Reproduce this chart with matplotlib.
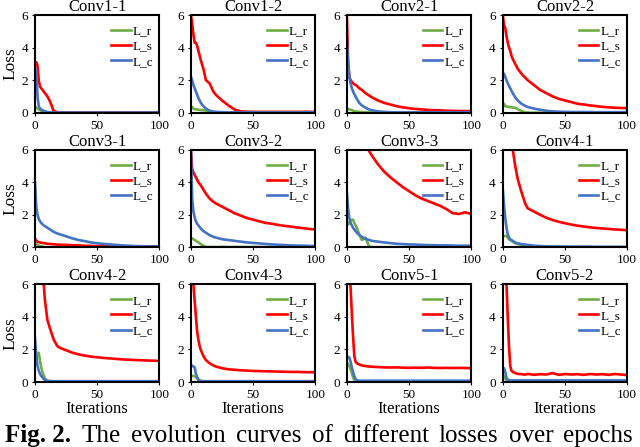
import matplotlib
matplotlib.use("Agg")
import matplotlib.pyplot as plt

plt.rcParams['font.family'] = ['Liberation Serif', 'DejaVu Serif']

# iteration grid shared by every curve
iters = [0, 1, 2, 3, 4, 5, 6, 7, 8, 10, 12, 15, 18, 20, 25, 30, 35, 40, 45, 50,
         55, 60, 65, 70, 75, 80, 85, 90, 95, 100]

titles = ["Conv1-1", "Conv1-2", "Conv2-1", "Conv2-2",
          "Conv3-1", "Conv3-2", "Conv3-3", "Conv4-1",
          "Conv4-2", "Conv4-3", "Conv5-1", "Conv5-2"]
labels = ["L_r", "L_s", "L_c"]
caption_words = ["The", "evolution", "curves", "of", "different", "losses", "over", "epochs"]

# L_r (green), L_s (red), L_c (blue) per layer
conv1_1_lr = [0.4, 0.3, 0.25, 0.2, 0.15, 0.12, 0.1, 0.08, 0.06, 0.03, 0.02, 0, 0, 0, 0, 0, 0, 0, 0, 0, 0, 0, 0, 0, 0, 0, 0, 0, 0, 0]
conv1_1_ls = [2.9, 3.1, 2.9, 2.0, 1.6, 1.5, 1.4, 1.3, 1.2, 1.0, 0.7, 0.1, 0.03, 0.02, 0.01, 0.01, 0.01, 0.01, 0.01, 0.01, 0.01, 0.01, 0.01, 0.01, 0.01, 0.01, 0.01, 0.01, 0.01, 0.01]
conv1_1_lc = [2.7, 2.6, 1.0, 0.4, 0.25, 0.2, 0.15, 0.12, 0.08, 0.04, 0.02, 0.01, 0.01, 0.01, 0.01, 0.01, 0.01, 0.01, 0.01, 0.01, 0.01, 0.01, 0.01, 0.01, 0.01, 0.01, 0.01, 0.01, 0.01, 0.01]

conv1_2_lr = [0.3, 0.35, 0.25, 0.22, 0.2, 0.2, 0.18, 0.17, 0.16, 0.15, 0.12, 0.06, 0.02, 0, 0, 0, 0, 0, 0, 0, 0, 0, 0, 0, 0, 0, 0, 0, 0, 0]
conv1_2_ls = [6.0, 5.5, 4.8, 4.3, 4.3, 4.1, 3.8, 3.5, 3.2, 2.7, 2.0, 1.8, 1.3, 1.1, 0.75, 0.45, 0.2, 0.08, 0.06, 0.05, 0.05, 0.05, 0.05, 0.05, 0.05, 0.05, 0.05, 0.05, 0.05, 0.05]
conv1_2_lc = [2.2, 2.0, 1.7, 1.5, 1.3, 1.1, 0.9, 0.75, 0.6, 0.4, 0.25, 0.12, 0.07, 0.05, 0.03, 0.02, 0.02, 0.02, 0.02, 0.02, 0.02, 0.02, 0.02, 0.02, 0.02, 0.02, 0.02, 0.02, 0.02, 0.02]

conv2_1_lr = [0.25, 0.22, 0.2, 0.18, 0.15, 0.12, 0.1, 0.08, 0.07, 0.05, 0.04, 0.03, 0.02, 0.02, 0.01, 0, 0, 0, 0, 0, 0, 0, 0, 0, 0, 0, 0, 0, 0, 0]
conv2_1_ls = [6.0, 3.2, 2.2, 2.0, 1.9, 1.8, 1.75, 1.7, 1.65, 1.5, 1.4, 1.2, 1.05, 0.95, 0.75, 0.6, 0.5, 0.4, 0.33, 0.27, 0.23, 0.2, 0.17, 0.15, 0.14, 0.12, 0.11, 0.1, 0.1, 0.1]
conv2_1_lc = [4.5, 3.0, 2.2, 1.8, 1.5, 1.3, 1.15, 1.0, 0.85, 0.6, 0.45, 0.3, 0.2, 0.15, 0.08, 0.05, 0.03, 0.02, 0.02, 0.02, 0.02, 0.02, 0.02, 0.02, 0.02, 0.02, 0.02, 0.02, 0.02, 0.02]

conv2_2_lr = [0.4, 0.55, 0.4, 0.38, 0.36, 0.35, 0.34, 0.33, 0.32, 0.3, 0.22, 0.1, 0.02, 0, 0, 0, 0, 0, 0, 0, 0, 0, 0, 0, 0, 0, 0, 0, 0, 0]
conv2_2_ls = [6.0, 5.4, 5.2, 4.7, 4.3, 4.0, 3.8, 3.5, 3.3, 3.0, 2.7, 2.4, 2.15, 2.0, 1.7, 1.4, 1.2, 1.0, 0.85, 0.75, 0.65, 0.55, 0.5, 0.45, 0.4, 0.36, 0.33, 0.3, 0.29, 0.28]
conv2_2_lc = [2.3, 2.4, 2.2, 2.0, 1.8, 1.65, 1.5, 1.35, 1.2, 0.95, 0.75, 0.55, 0.42, 0.35, 0.25, 0.18, 0.12, 0.08, 0.06, 0.05, 0.04, 0.04, 0.04, 0.04, 0.03, 0.03, 0.03, 0.03, 0.03, 0.03]

conv3_1_lr = [0.25, 0.2, 0.15, 0.1, 0.08, 0.06, 0.04, 0.03, 0.02, 0.01, 0.01, 0.01, 0.01, 0.01, 0.01, 0.01, 0.01, 0.01, 0.01, 0.01, 0.01, 0.01, 0.01, 0.01, 0.01, 0.01, 0.01, 0.01, 0.01, 0.01]
conv3_1_ls = [0.55, 0.4, 0.35, 0.32, 0.3, 0.28, 0.27, 0.26, 0.25, 0.22, 0.21, 0.19, 0.17, 0.16, 0.15, 0.13, 0.12, 0.1, 0.09, 0.08, 0.08, 0.07, 0.07, 0.06, 0.06, 0.06, 0.05, 0.05, 0.05, 0.05]
conv3_1_lc = [4.0, 2.5, 2.0, 1.75, 1.6, 1.5, 1.42, 1.35, 1.3, 1.2, 1.1, 0.95, 0.85, 0.8, 0.68, 0.55, 0.45, 0.38, 0.3, 0.25, 0.21, 0.18, 0.15, 0.12, 0.1, 0.08, 0.07, 0.06, 0.05, 0.05]

conv3_2_lr = [0.6, 0.55, 0.5, 0.45, 0.4, 0.35, 0.3, 0.25, 0.2, 0.1, 0.03, 0.02, 0.02, 0.02, 0.02, 0.02, 0.02, 0.02, 0.02, 0.02, 0.02, 0.02, 0.02, 0.02, 0.02, 0.02, 0.02, 0.02, 0.02, 0.02]
conv3_2_ls = [6.0, 4.8, 4.6, 4.45, 4.3, 4.15, 4.0, 3.9, 3.8, 3.55, 3.3, 3.0, 2.8, 2.7, 2.5, 2.3, 2.1, 1.95, 1.8, 1.7, 1.6, 1.5, 1.45, 1.38, 1.32, 1.28, 1.22, 1.18, 1.13, 1.1]
conv3_2_lc = [6.0, 3.0, 2.2, 1.85, 1.6, 1.45, 1.35, 1.25, 1.15, 1.0, 0.9, 0.75, 0.65, 0.6, 0.5, 0.45, 0.4, 0.35, 0.3, 0.27, 0.24, 0.21, 0.18, 0.16, 0.14, 0.12, 0.11, 0.1, 0.09, 0.08]

conv3_3_lr = [1.6, 1.4, 1.5, 1.65, 1.7, 1.7, 1.5, 1.35, 1.2, 0.8, 0.45, 0.6, 0.03, 0.02, 0.01, 0.01, 0.01, 0.01, 0.01, 0.01, 0.01, 0.01, 0.01, 0.01, 0.01, 0.01, 0.01, 0.01, 0.01, 0.01]
conv3_3_ls = [9.5, 9.3, 9.1, 8.9, 8.7, 8.5, 8.3, 8.1, 7.9, 7.5, 7.1, 6.5, 5.9, 5.65, 5.1, 4.65, 4.3, 4.0, 3.7, 3.45, 3.2, 3.0, 2.85, 2.7, 2.55, 2.35, 2.1, 2.05, 2.15, 2.05]
conv3_3_lc = [3.4, 2.4, 1.8, 1.5, 1.35, 1.2, 1.1, 1.0, 0.9, 0.75, 0.65, 0.52, 0.45, 0.4, 0.35, 0.3, 0.26, 0.22, 0.2, 0.18, 0.17, 0.15, 0.14, 0.13, 0.12, 0.12, 0.11, 0.1, 0.1, 0.1]

conv4_1_lr = [0.7, 0.7, 0.7, 0.68, 0.6, 0.5, 0.45, 0.4, 0.35, 0.25, 0.2, 0.15, 0.1, 0.05, 0.02, 0.01, 0.01, 0.01, 0.01, 0.01, 0.01, 0.01, 0.01, 0.01, 0.01, 0.01, 0.01, 0.01, 0.01, 0.01]
conv4_1_ls = [10.0, 9.5, 9.0, 8.5, 8.0, 7.5, 7.0, 6.5, 6.0, 5.0, 4.2, 3.4, 2.7, 2.4, 2.2, 2.0, 1.82, 1.68, 1.57, 1.48, 1.4, 1.33, 1.28, 1.23, 1.19, 1.16, 1.13, 1.1, 1.08, 1.05]
conv4_1_lc = [3.6, 2.6, 1.8, 1.2, 0.8, 0.6, 0.5, 0.45, 0.4, 0.3, 0.25, 0.2, 0.17, 0.15, 0.1, 0.08, 0.06, 0.05, 0.05, 0.05, 0.04, 0.04, 0.04, 0.04, 0.03, 0.03, 0.03, 0.03, 0.03, 0.03]

conv4_2_lr = [1.9, 1.4, 1.7, 1.8, 1.3, 0.9, 0.6, 0.4, 0.2, 0.05, 0.02, 0.01, 0.01, 0.01, 0.01, 0.01, 0.01, 0.01, 0.01, 0.01, 0.01, 0.01, 0.01, 0.01, 0.01, 0.01, 0.01, 0.01, 0.01, 0.01]
conv4_2_ls = [10.0, 9.3, 8.6, 7.9, 7.2, 6.6, 6.2, 6.0, 5.0, 3.8, 3.3, 2.6, 2.2, 2.1, 1.95, 1.8, 1.7, 1.62, 1.56, 1.52, 1.48, 1.45, 1.42, 1.39, 1.37, 1.35, 1.34, 1.32, 1.31, 1.3]
conv4_2_lc = [2.7, 1.6, 1.0, 0.7, 0.5, 0.38, 0.28, 0.2, 0.13, 0.08, 0.06, 0.05, 0.05, 0.05, 0.05, 0.05, 0.05, 0.05, 0.05, 0.05, 0.05, 0.05, 0.05, 0.05, 0.05, 0.05, 0.05, 0.05, 0.05, 0.05]

conv4_3_lr = [0.4, 0.38, 0.36, 0.35, 0.3, 0.2, 0.12, 0.06, 0.03, 0.01, 0, 0, 0, 0, 0, 0, 0, 0, 0, 0, 0, 0, 0, 0, 0, 0, 0, 0, 0, 0]
conv4_3_ls = [8.0, 7.0, 6.0, 5.0, 4.0, 3.1, 2.6, 2.2, 1.95, 1.6, 1.35, 1.15, 1.02, 0.95, 0.85, 0.78, 0.75, 0.72, 0.7, 0.68, 0.67, 0.66, 0.65, 0.64, 0.63, 0.62, 0.62, 0.61, 0.6, 0.6]
conv4_3_lc = [1.05, 1.0, 0.95, 0.9, 0.5, 0.3, 0.15, 0.1, 0.07, 0.05, 0.05, 0.05, 0.05, 0.05, 0.05, 0.05, 0.05, 0.05, 0.05, 0.05, 0.05, 0.05, 0.05, 0.05, 0.05, 0.05, 0.05, 0.05, 0.05, 0.05]

conv5_1_lr = [1.2, 1.1, 1.0, 0.8, 0.55, 0.3, 0.12, 0.05, 0.02, 0.01, 0.01, 0.01, 0.01, 0.01, 0.01, 0.01, 0.01, 0.01, 0.01, 0.01, 0.01, 0.01, 0.01, 0.01, 0.01, 0.01, 0.01, 0.01, 0.01, 0.01]
conv5_1_ls = [9.0, 8.0, 7.0, 5.8, 4.2, 2.8, 1.6, 1.25, 1.15, 1.08, 1.02, 0.98, 0.95, 0.94, 0.92, 0.9, 0.89, 0.9, 0.88, 0.87, 0.88, 0.87, 0.89, 0.87, 0.86, 0.87, 0.86, 0.87, 0.86, 0.85]
conv5_1_lc = [1.4, 1.55, 1.5, 1.25, 0.9, 0.6, 0.35, 0.18, 0.1, 0.08, 0.08, 0.08, 0.08, 0.08, 0.08, 0.08, 0.08, 0.08, 0.08, 0.08, 0.08, 0.08, 0.08, 0.08, 0.08, 0.08, 0.08, 0.08, 0.08, 0.08]

conv5_2_lr = [0.4, 0.35, 0.2, 0.08, 0.03, 0.02, 0.01, 0.01, 0.01, 0.01, 0.01, 0.01, 0.01, 0.01, 0.01, 0.01, 0.01, 0.01, 0.01, 0.01, 0.01, 0.01, 0.01, 0.01, 0.01, 0.01, 0.01, 0.01, 0.01, 0.01]
conv5_2_ls = [9.0, 8.0, 7.5, 6.0, 4.0, 2.2, 1.0, 0.7, 0.62, 0.55, 0.5, 0.48, 0.45, 0.5, 0.44, 0.48, 0.46, 0.55, 0.44, 0.49, 0.46, 0.48, 0.44, 0.49, 0.46, 0.48, 0.44, 0.49, 0.46, 0.43]
conv5_2_lc = [0.8, 0.85, 0.6, 0.25, 0.15, 0.1, 0.1, 0.1, 0.1, 0.1, 0.1, 0.1, 0.1, 0.1, 0.1, 0.1, 0.1, 0.1, 0.1, 0.1, 0.1, 0.1, 0.1, 0.1, 0.1, 0.1, 0.1, 0.1, 0.1, 0.1]

panels = [
    (conv1_1_lr, conv1_1_ls, conv1_1_lc), (conv1_2_lr, conv1_2_ls, conv1_2_lc),
    (conv2_1_lr, conv2_1_ls, conv2_1_lc), (conv2_2_lr, conv2_2_ls, conv2_2_lc),
    (conv3_1_lr, conv3_1_ls, conv3_1_lc), (conv3_2_lr, conv3_2_ls, conv3_2_lc),
    (conv3_3_lr, conv3_3_ls, conv3_3_lc), (conv4_1_lr, conv4_1_ls, conv4_1_lc),
    (conv4_2_lr, conv4_2_ls, conv4_2_lc), (conv4_3_lr, conv4_3_ls, conv4_3_lc),
    (conv5_1_lr, conv5_1_ls, conv5_1_lc), (conv5_2_lr, conv5_2_ls, conv5_2_lc),
]
colors = ["#70AD47", "#FF0000", "#4472C4"]

fig, axes = plt.subplots(3, 4, figsize=(6.4, 4.47), dpi=100)
fig.subplots_adjust(left=0.0547, right=0.98, top=0.9664, bottom=0.1454,
                    wspace=0.253, hspace=0.379)

for i, ax in enumerate(axes.flat):
    for vals, col, lab in zip(panels[i], colors, labels):
        ax.plot(iters, vals, color=col, lw=1.9, label=lab)
    ax.set_xlim(0, 100)
    ax.set_ylim(0, 6)
    ax.set_xticks([0, 50, 100])
    ax.set_yticks([0, 2, 4, 6])
    ax.tick_params(labelsize=9.5, length=2, width=0.8, pad=3)
    for sp in ax.spines.values():
        sp.set_linewidth(1.5)
    ax.set_title(titles[i], fontsize=12, pad=2)
    ax.legend(loc="upper right", bbox_to_anchor=(0.95, 0.895), frameon=False,
              fontsize=9.5, handlelength=1.5, handletextpad=0.15,
              labelspacing=0.22, borderpad=0, borderaxespad=0)
    if i % 4 == 0:
        ax.set_ylabel("Loss", fontsize=12.5, labelpad=2)
    if i >= 8:
        ax.set_xlabel("Iterations", fontsize=12, labelpad=0)

# caption at the bottom, spread across the width like the justified source text
fig.text(5 / 640, 0.0, "Fig. 2.", fontsize=18, fontweight="bold", va="bottom")
renderer = fig.canvas.get_renderer()
word_objs = [fig.text(0, 0.0, w, fontsize=18, va="bottom") for w in caption_words]
widths = [t.get_window_extent(renderer).width for t in word_objs]
x0, x1 = 82.0, 633.0
gap = (x1 - x0 - sum(widths)) / (len(caption_words) - 1)
xpos = x0
for t, w in zip(word_objs, widths):
    t.set_x(xpos / 640)
    xpos += w + gap

fig.savefig("out.png", dpi=100)
